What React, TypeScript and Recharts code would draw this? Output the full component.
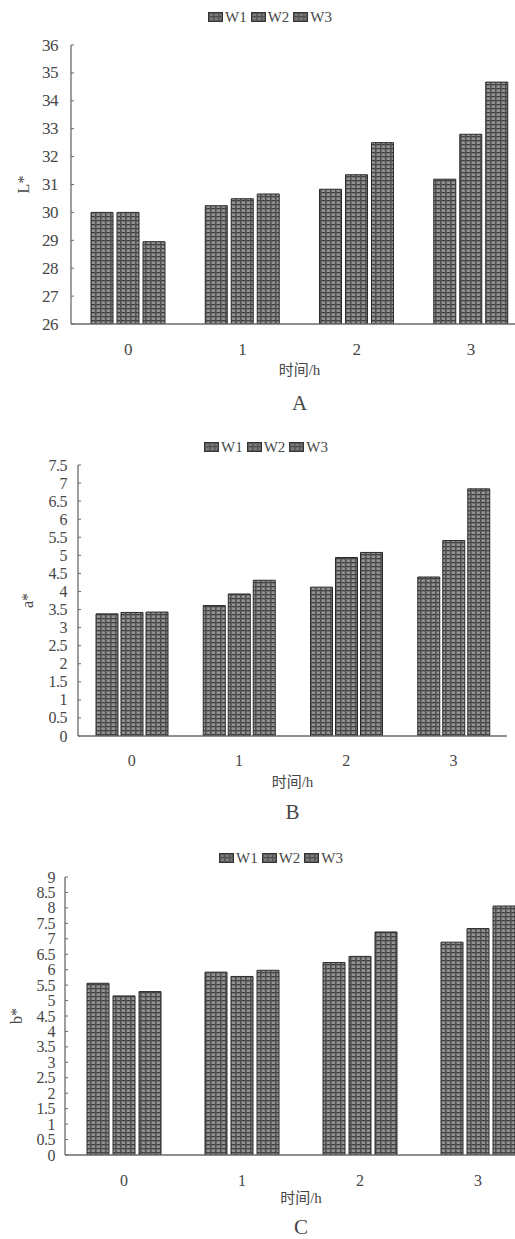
import React from "react";
import { Bar, BarChart, Legend, XAxis, YAxis } from "recharts";

// colour values (A: L*, B: a*, C: b*)
const hours = ["0", "1", "2", "3"];
const seriesNames = ["W1", "W2", "W3"];

const lW1 = [30.0, 30.24, 30.83, 31.19];
const lW2 = [30.0, 30.49, 31.35, 32.8];
const lW3 = [28.95, 30.66, 32.5, 34.67];
const lTicks = [26, 27, 28, 29, 30, 31, 32, 33, 34, 35, 36];

const aW1 = [3.38, 3.61, 4.12, 4.4];
const aW2 = [3.42, 3.93, 4.94, 5.41];
const aW3 = [3.43, 4.31, 5.08, 6.84];
const aTicks = [0, 0.5, 1, 1.5, 2, 2.5, 3, 3.5, 4, 4.5, 5, 5.5, 6, 6.5, 7, 7.5];

const bW1 = [5.56, 5.92, 6.23, 6.89];
const bW2 = [5.15, 5.78, 6.43, 7.33];
const bW3 = [5.29, 5.98, 7.22, 8.06];
const bTicks = [0, 0.5, 1, 1.5, 2, 2.5, 3, 3.5, 4, 4.5, 5, 5.5, 6, 6.5, 7, 7.5, 8, 8.5, 9];

const SERIF = '"Liberation Serif", "DejaVu Serif", serif';
const CJK = '"Liberation Serif", "Noto Sans CJK SC", serif';
const TEXT = "#474747";
const AXIS = "#6a6a6a";

const toRows = (w1: number[], w2: number[], w3: number[]) =>
  hours.map((h, i) => ({ h, W1: w1[i], W2: w2[i], W3: w3[i] }));

type PanelProps = {
  id: string;
  top: number;
  width: number;
  height: number;
  plotLeft: number;
  plotRight: number;
  plotTop: number;
  plotBottom: number;
  w1: number[];
  w2: number[];
  w3: number[];
  ticks: number[];
  yLabel: string;
  letter: string;
  tickFont: number;
  tickGap: number;
  xTickMargin: number;
  yLabelX: number;
  titleDy: number;
  letterDy: number;
  legendLeft: number;
  legendTop: number;
  barSize: number;
  barGap: number;
};

function Panel(p: PanelProps) {
  const pid = `check-${p.id}`;
  const data = toRows(p.w1, p.w2, p.w3);
  const xAxisHeight = 30;

  const yTick = (props: any) => {
    const { x, y, payload } = props;
    return (
      <g>
        <line x1={x + p.tickGap} x2={x + p.tickGap + 3} y1={y} y2={y} stroke={AXIS} />
        <text
          x={x}
          y={y}
          textAnchor="end"
          dominantBaseline="central"
          fontSize={p.tickFont}
          fontFamily={SERIF}
          fill={TEXT}
          letterSpacing={-0.5}
        >
          {payload.value}
        </text>
      </g>
    );
  };

  const legend = () => (
    <div
      style={{
        display: "flex",
        alignItems: "center",
        fontFamily: SERIF,
        fontSize: 15,
        color: TEXT,
        lineHeight: "16px",
      }}
    >
      {seriesNames.map((s) => (
        <span key={s} style={{ display: "flex", alignItems: "center", marginRight: 4 }}>
          <svg width={15} height={10} style={{ display: "block" }}>
            <rect x={0.5} y={0.5} width={14} height={9} fill="#5c5c5c" stroke="#333" />
            <rect x={2} y={2} width={11} height={6} fill={`url(#${pid})`} opacity={0.6} />
          </svg>
          <span style={{ marginLeft: 2 }}>{s}</span>
        </span>
      ))}
    </div>
  );

  return (
    <div style={{ position: "absolute", left: 0, top: p.top }}>
      <BarChart
        width={p.width}
        height={p.height}
        data={data}
        barGap={p.barGap}
        margin={{
          top: p.plotTop,
          right: p.width - p.plotRight,
          bottom: p.height - p.plotBottom - xAxisHeight,
          left: 0,
        }}
      >
        <defs>
          <pattern id={pid} width={5} height={4} patternUnits="userSpaceOnUse">
            <rect width={5} height={4} fill="#929292" />
            <rect width={5} height={1.3} fill="#404040" />
            <rect width={1.6} height={4} fill="#505050" />
          </pattern>
        </defs>
        <Legend
          layout="horizontal"
          verticalAlign="middle"
          align="center"
          content={legend}
          wrapperStyle={{ top: p.legendTop, left: p.legendLeft, width: "auto", height: "auto" }}
        />
        <XAxis
          dataKey="h"
          height={xAxisHeight}
          tickLine={false}
          tickMargin={p.xTickMargin}
          stroke={AXIS}
          strokeWidth={1.3}
          tick={{ fill: TEXT, fontSize: p.tickFont, fontFamily: SERIF }}
          label={{
            content: (lp: any) => {
              const vb = lp.viewBox;
              const cx = vb.x + vb.width / 2;
              return (
                <g>
                  <text
                    x={cx}
                    y={vb.y + p.titleDy}
                    textAnchor="middle"
                    dominantBaseline="central"
                    fontSize={15}
                    fontFamily={CJK}
                    fill={TEXT}
                  >
                    时间/h
                  </text>
                  <text
                    x={cx}
                    y={vb.y + p.letterDy}
                    textAnchor="middle"
                    dominantBaseline="central"
                    fontSize={21}
                    fontFamily={SERIF}
                    fill={TEXT}
                  >
                    {p.letter}
                  </text>
                </g>
              );
            },
          }}
        />
        <YAxis
          width={p.plotLeft}
          domain={[p.ticks[0], p.ticks[p.ticks.length - 1]]}
          ticks={p.ticks}
          interval={0}
          allowDataOverflow
          tickLine={false}
          tickSize={0}
          tickMargin={p.tickGap}
          stroke={AXIS}
          strokeWidth={1.3}
          tick={yTick}
          label={{
            content: (lp: any) => {
              const vb = lp.viewBox;
              const cy = vb.y + vb.height / 2;
              return (
                <text
                  x={p.yLabelX}
                  y={cy}
                  transform={`rotate(-90 ${p.yLabelX} ${cy})`}
                  textAnchor="middle"
                  dominantBaseline="central"
                  fontSize={16}
                  fontFamily={SERIF}
                  fill={TEXT}
                >
                  {p.yLabel}
                </text>
              );
            },
          }}
        />
        {seriesNames.map((s) => (
          <Bar
            key={s}
            dataKey={s}
            fill={`url(#${pid})`}
            stroke="#2b2b2b"
            strokeWidth={1}
            barSize={p.barSize}
            isAnimationActive={false}
          />
        ))}
      </BarChart>
    </div>
  );
}

export default function App() {
  return (
    <div
      style={{
        position: "absolute",
        left: 0,
        top: 0,
        width: 515,
        height: 1239,
        overflow: "hidden",
        background: "#fff",
      }}
    >
      <Panel
        id="a"
        top={0}
        width={540}
        height={420}
        plotLeft={71}
        plotRight={528}
        plotTop={45}
        plotBottom={324}
        w1={lW1}
        w2={lW2}
        w3={lW3}
        ticks={lTicks}
        yLabel="L*"
        letter="A"
        tickFont={17}
        tickGap={13}
        xTickMargin={13}
        yLabelX={23}
        titleDy={46}
        letterDy={79}
        legendLeft={208}
        legendTop={9}
        barSize={22}
        barGap={4}
      />
      <Panel
        id="b"
        top={430}
        width={515}
        height={400}
        plotLeft={78}
        plotRight={507}
        plotTop={35}
        plotBottom={306}
        w1={aW1}
        w2={aW2}
        w3={aW3}
        ticks={aTicks}
        yLabel="a*"
        letter="B"
        tickFont={16}
        tickGap={11}
        xTickMargin={13}
        yLabelX={27}
        titleDy={46}
        letterDy={76}
        legendLeft={204}
        legendTop={9}
        barSize={22}
        barGap={3}
      />
      <Panel
        id="c"
        top={840}
        width={545}
        height={399}
        plotLeft={65}
        plotRight={537}
        plotTop={37}
        plotBottom={315}
        w1={bW1}
        w2={bW2}
        w3={bW3}
        ticks={bTicks}
        yLabel="b*"
        letter="C"
        tickFont={16}
        tickGap={10}
        xTickMargin={14}
        yLabelX={16}
        titleDy={43}
        letterDy={72}
        legendLeft={219}
        legendTop={10}
        barSize={22}
        barGap={4}
      />
    </div>
  );
}
